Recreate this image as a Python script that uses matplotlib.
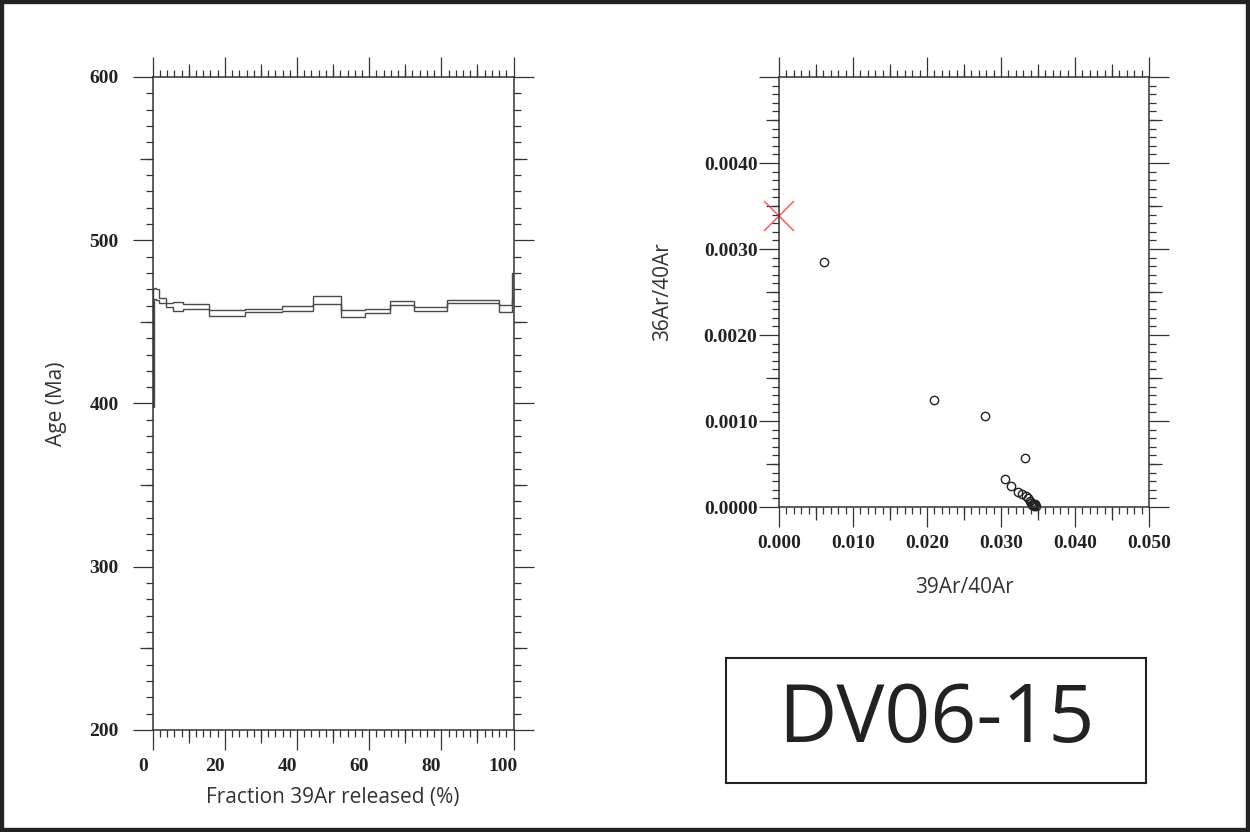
import matplotlib
matplotlib.use("Agg")
import matplotlib.pyplot as plt
from matplotlib.ticker import MultipleLocator, FixedLocator, FuncFormatter, NullLocator
from matplotlib.patches import Rectangle
from matplotlib.transforms import ScaledTranslation

# age spectrum: cumulative 39Ar fraction (%) and upper/lower age bounds (Ma)
step_edges = [0, 0.3, 0.8, 1.8, 3.7, 5.5, 8.5, 15.6, 25.7, 35.8, 44.4,
              52.1, 58.9, 65.7, 72.5, 81.7, 96.1, 99.6, 100]
age_upper = [470, 471, 470, 464.8, 461.8, 462, 461, 457, 457.9, 459.5,
             466, 457.5, 458.1, 462.6, 459.3, 463.2, 460.1, 480]
age_lower = [398, 464, 463.5, 461.8, 458.9, 456.7, 458.1, 453.4, 455.9, 456.5,
             461, 453, 455.5, 460.5, 456.9, 461.6, 456.3, 464]

# inverse isochron points
ar39_ar40 = [0.0061, 0.0209, 0.0279, 0.0332, 0.0306, 0.0314, 0.0323, 0.0328,
             0.0334, 0.0336, 0.0339, 0.0341, 0.0343, 0.0344, 0.0345, 0.0346,
             0.0347, 0.0344, 0.0342]
ar36_ar40 = [0.00285, 0.00125, 0.00106, 0.00057, 0.00033, 0.00025, 0.00017,
             0.00015, 0.00013, 0.00010, 0.00007, 0.00005, 0.00004, 0.00003,
             0.00002, 0.00003, 0.00001, 0.00001, 0.00002]
intercept_x = [0.0]
intercept_y = [0.00338]

sample_name = "DV06-15"

INK = "#333333"
TICKFONT = dict(family="Liberation Serif", weight="bold", size=14)
LABELFONT = dict(family="Open Sans", size=15, color=INK)


def style_axes(ax, xmaj, xmin, xmed, ymaj, ymin, ymed, xfmt, yfmt, ypad):
    for s in ax.spines.values():
        s.set_color(INK)
        s.set_linewidth(1.1)
    ax.xaxis.set_major_locator(MultipleLocator(xmaj))
    ax.xaxis.set_minor_locator(MultipleLocator(xmin))
    ax.yaxis.set_major_locator(MultipleLocator(ymaj))
    ax.yaxis.set_minor_locator(MultipleLocator(ymin))
    ax.xaxis.set_major_formatter(FuncFormatter(xfmt))
    ax.yaxis.set_major_formatter(FuncFormatter(yfmt))
    ax.tick_params(which="both", direction="out", color=INK, width=0.9,
                   top=True, right=True, bottom=True, left=True)
    ax.tick_params(which="major", length=14.5)
    ax.tick_params(which="minor", length=5)
    ax.tick_params(axis="x", which="major", pad=6)
    ax.tick_params(axis="y", which="major", pad=ypad)
    for lab in ax.get_xticklabels() + ax.get_yticklabels():
        lab.set_fontfamily(TICKFONT["family"])
        lab.set_fontweight(TICKFONT["weight"])
        lab.set_fontsize(TICKFONT["size"])
        lab.set_color("#222222")
    # medium-length ticks
    for loc in ("bottom", "top"):
        sec = ax.secondary_xaxis(loc)
        sec.xaxis.set_major_locator(FixedLocator(xmed))
        sec.xaxis.set_minor_locator(NullLocator())
        sec.tick_params(length=9.5, width=0.9, color=INK, direction="out",
                        labelbottom=False, labeltop=False)
        for s in sec.spines.values():
            s.set_visible(False)
    for loc in ("left", "right"):
        sec = ax.secondary_yaxis(loc)
        sec.yaxis.set_major_locator(FixedLocator(ymed))
        sec.yaxis.set_minor_locator(NullLocator())
        sec.tick_params(length=9.5, width=0.9, color=INK, direction="out",
                        labelleft=False, labelright=False)
        for s in sec.spines.values():
            s.set_visible(False)


fig = plt.figure(figsize=(12.5, 8.32), dpi=100)

# ---- age spectrum
ax1 = fig.add_axes([0.1222, 0.1226, 0.2886, 0.7849])
ax1.stairs(age_upper, step_edges, baseline=age_lower, fill=False,
           color="#4a4a4a", lw=1.0)
ax1.set_xlim(0, 100)
ax1.set_ylim(200, 600)
style_axes(ax1, 20, 2, [10, 30, 50, 70, 90], 100, 10, [250, 350, 450, 550],
           lambda v, p: "%d" % round(v), lambda v, p: "%d" % round(v), 10)
shift = ScaledTranslation(-0.10, 0, fig.dpi_scale_trans)
for lab in ax1.get_xticklabels():
    lab.set_transform(lab.get_transform() + shift)
ax1.set_xlabel("Fraction 39Ar released (%)", labelpad=8, **LABELFONT)
ax1.set_ylabel("Age (Ma)", labelpad=16, **LABELFONT)

# ---- inverse isochron
ax2 = fig.add_axes([0.6232, 0.3906, 0.2960, 0.5168])
ax2.plot(ar39_ar40, ar36_ar40, "o", ms=6, mfc="none", mec="#222222", mew=1.0,
         clip_on=False)
ax2.plot(intercept_x, intercept_y, "x", ms=22, color="#ff3b3b", mew=1.1,
         alpha=0.85, clip_on=False)
ax2.set_xlim(0, 0.05)
ax2.set_ylim(0, 0.005)
style_axes(ax2, 0.01, 0.001, [0.005, 0.015, 0.025, 0.035, 0.045],
           0.001, 0.0001, [0.0005, 0.0015, 0.0025, 0.0035, 0.0045],
           lambda v, p: "%.3f" % v,
           lambda v, p: "" if v > 0.00455 else "%.4f" % v, 1)
ax2.set_xlabel("39Ar/40Ar", labelpad=18, **LABELFONT)
ax2.set_ylabel("36Ar/40Ar", labelpad=22, **LABELFONT)

# ---- sample label box
fig.add_artist(Rectangle((0.5808, 0.0589), 0.336, 0.1502, transform=fig.transFigure,
                         fill=False, ec="#222222", lw=1.5))
fig.text(0.7488, 0.1334, sample_name, ha="center", va="center",
         family="Open Sans", size=58, color="#222222")

# outer frame
fig.add_artist(Rectangle((0, 0), 1, 1, transform=fig.transFigure,
                         fill=False, ec="#222222", lw=6))

fig.savefig("out.png", dpi=100)
